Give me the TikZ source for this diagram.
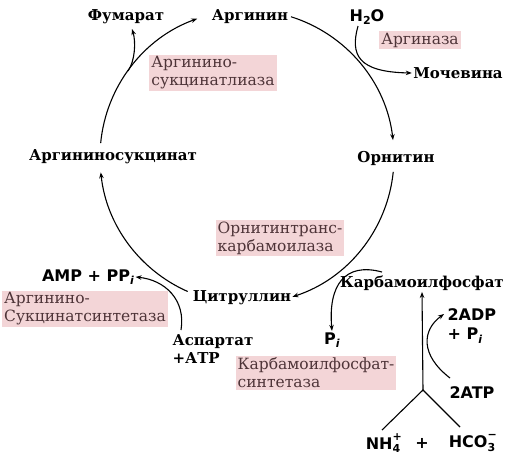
\documentclass[tikz,border=0pt]{standalone}
\usepackage{fontspec}
\setmainfont{DejaVu Serif}
\newfontfamily\chemfont{DejaVu Sans}
\usetikzlibrary{arrows.meta}

\definecolor{enzfill}{HTML}{F3D5D7}
\definecolor{enztext}{HTML}{4E3438}
\newcommand{\chsub}[1]{\raisebox{-0.4ex}{\fontsize{11}{11}\selectfont #1}}
\newcommand{\chion}[2]{\makebox[0pt][l]{\raisebox{1.0ex}{\fontsize{11}{11}\selectfont #2}}\raisebox{-0.4ex}{\fontsize{11}{11}\selectfont #1}}

\begin{document}
\begin{tikzpicture}[x=1pt, y=-1pt, line width=1.1pt, >={Stealth[length=6pt,width=4.5pt]},
  metab/.style={font=\fontsize{15}{18}\selectfont\bfseries, inner sep=1pt},
  chem/.style={font=\chemfont\fontsize{16}{19}\selectfont\bfseries, inner sep=1pt},
  enzyme/.style={fill=enzfill, text=enztext, font=\fontsize{15.5}{18}\selectfont, align=left, inner sep=2pt}]
  \useasboundingbox (0,0) rectangle (506,458);

  % Metabolites
  \node[metab] (arg) at (250,17) {Аргинин};
  \node[metab] (orn) at (396,158) {Орнитин};
  \node[metab] (cit) at (242,298) {Цитруллин};
  \node[metab] (argsuc) at (113,157) {Аргининосукцинат};
  \node[metab] (fum) at (126,17) {Фумарат};
  \node[metab] (urea) at (458,73) {Мочевина};
  \node[metab] (cp) at (422,283) {Карбамоилфосфат};
  \node[metab, align=left, anchor=west] (asp) at (171,349) {Аспартат\\+АТР};

  % Small molecules
  \node[chem] (water) at (367,17) {H\chsub{2}O};
  \node[chem] (amp) at (88,277) {AMP + PP\chsub{\textit{i}}};
  \node[chem] (pi) at (332,340) {P\chsub{\textit{i}}};
  \node[chem, align=left, anchor=west] (adp) at (446,326) {2ADP\\+ P\chsub{\textit{i}}};
  \node[chem] (atp) at (472,393) {2ATP};
  \node[chem] (nh4) at (383,443) {NH\chion{4}{+}};
  \node[chem] (plus) at (422,443) {+};
  \node[chem] (hco3) at (472,443) {HCO\chion{3}{−}};

  % Enzymes
  \node[enzyme] (lyase) at (213,73) {Аргинино-\\сукцинатлиаза};
  \node[enzyme] (arginase) at (420,40) {Аргиназа};
  \node[enzyme] (otc) at (280,238) {Орнитинтранс-\\карбамоилаза};
  \node[enzyme] (ass) at (85,309) {Аргинино-\\Сукцинатсинтетаза};
  \node[enzyme] (cps) at (316,373) {Карбамоилфосфат-\\синтетаза};

  % Cycle
  \coordinate (cyc) at (247,157);
  \path (cyc) ++(-72.6:147) coordinate (argout);
  \path (cyc) ++(5.8:147) coordinate (ornout);
  \path (cyc) ++(113.8:147) coordinate (citout);
  \path (cyc) ++(185.4:147) coordinate (sucout);
  \draw[->] (argout) arc[start angle=-72.6, end angle=-6.6, radius=147];
  \draw[->] (ornout) arc[start angle=5.8, end angle=72, radius=147];
  \draw[->] (citout) arc[start angle=113.8, end angle=174, radius=147];
  \draw[->] (sucout) arc[start angle=185.4, end angle=250.2, radius=147];

  % Side reactions
  \coordinate (fumout) at (128,71);
  \coordinate (fumin) at (132,29);
  \draw[->] (fumout) .. controls (135,61) and (136,42) .. (fumin);
  \coordinate (h2oin) at (358,26);
  \draw[->] (h2oin) .. controls (350,55) and (358,72) .. (urea.west);
  \coordinate (aspin) at (181,330);
  \draw[->] (aspin) .. controls (186,300) and (165,280) .. (amp.east);
  \coordinate (cpin) at (382,272);
  \draw[->] (cpin) .. controls (345,262) and (328,285) .. (pi.north);

  % Carbamoyl phosphate synthesis
  \coordinate (fork) at (423,390);
  \coordinate (nh4in) at (382,430);
  \coordinate (hco3in) at (460,427);
  \draw (nh4in) -- (fork) -- (hco3in);
  \draw[->] (fork) -- (cp.south);
  \coordinate (atpin) at (450,378);
  \coordinate (adpout) at (444,314);
  \draw[->] (atpin) .. controls (420,355) and (422,330) .. (adpout);
\end{tikzpicture}
\end{document}
